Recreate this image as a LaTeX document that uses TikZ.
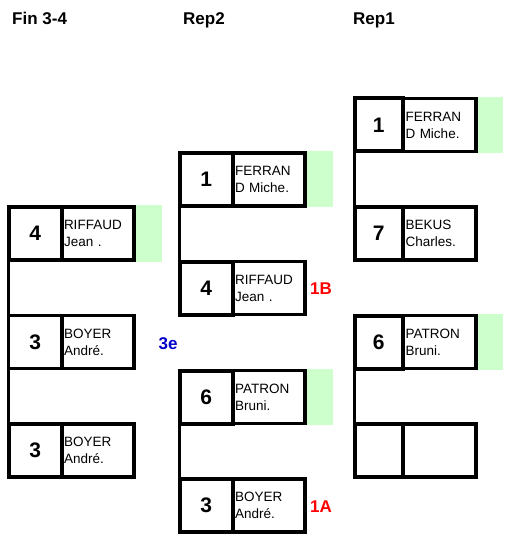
\documentclass[tikz,border=0pt]{standalone}
\usepackage{fontspec}
\setmainfont{Liberation Sans}
\usetikzlibrary{positioning}
\definecolor{winGreen}{HTML}{CCFFCC}
\definecolor{markRed}{HTML}{FF0000}
\definecolor{markBlue}{HTML}{0000CC}

\tikzset{
  numbox/.style={draw,line width=4pt,minimum width=53.5pt,minimum height=53pt,inner sep=0pt,outer sep=0pt,font=\fontsize{21}{21}\selectfont\bfseries},
  namebox/.style={draw,line width=3.2pt,minimum width=72pt,minimum height=53pt,text width=68pt,inner sep=2pt,outer sep=0pt,align=left,font=\fontsize{13.5}{17}\selectfont},
  winbox/.style={fill=winGreen,minimum width=26.5pt,minimum height=56pt,inner sep=0pt,outer sep=0pt},
  roundtitle/.style={anchor=base west,inner sep=0pt,font=\fontsize{17}{17}\selectfont\bfseries},
  placemark/.style={inner sep=0pt,font=\fontsize{17}{17}\selectfont\bfseries},
  link/.style={line width=3.5pt}
}

\begin{document}
\begin{tikzpicture}[x=1pt,y=-1pt]
  \useasboundingbox (0,0) rectangle (506,534);

  % round titles
  \node[roundtitle] (tFin) at (12,25) {Fin 3-4};
  \node[roundtitle] (tRep2) at (183,25) {Rep2};
  \node[roundtitle] (tRep1) at (353,25) {Rep1};

  % Fin 3-4
  \node[numbox] (fRiffaud) at (35.25,233.5) {4};
  \node[namebox,right=0pt of fRiffaud] (fRiffaudN) {RIFFAUD\\Jean .};
  \node[winbox,right=1.6pt of fRiffaudN] (fRiffaudW) {};
  \node[numbox,line width=3.2pt] (fBoyer) at (35.25,342) {3};
  \node[namebox,right=0pt of fBoyer] (fBoyerN) {BOYER\\André.};
  \node[numbox] (fBoyerB) at (35.25,450.5) {3};
  \node[namebox,right=0pt of fBoyerB] (fBoyerBN) {BOYER\\André.};
  \draw[link] (fRiffaud.south west) -- (fBoyer.north west);
  \draw[link] (fBoyer.south west) -- (fBoyerB.north west);
  \node[placemark,text=markBlue] (m3e) at (168,344) {3e};

  % Rep2
  \node[numbox] (sFerrand) at (206.25,179.5) {1};
  \node[namebox,right=0pt of sFerrand] (sFerrandN) {FERRAN\\D Miche.};
  \node[winbox,right=1.6pt of sFerrandN] (sFerrandW) {};
  \node[numbox] (sRiffaud) at (206.25,288) {4};
  \node[namebox,right=0pt of sRiffaud] (sRiffaudN) {RIFFAUD\\Jean .};
  \draw[link] (sFerrand.south west) -- (sRiffaud.north west);
  \node[placemark,text=markRed] (m1B) at (321,289) {1B};
  \node[numbox] (sPatron) at (206.25,397) {6};
  \node[namebox,right=0pt of sPatron] (sPatronN) {PATRON\\Bruni.};
  \node[winbox,right=1.6pt of sPatronN] (sPatronW) {};
  \node[numbox] (sBoyer) at (206.25,505.5) {3};
  \node[namebox,right=0pt of sBoyer] (sBoyerN) {BOYER\\André.};
  \draw[link] (sPatron.south west) -- (sBoyer.north west);
  \node[placemark,text=markRed] (m1A) at (321,507) {1A};

  % Rep1
  \node[numbox,minimum width=48.5pt] (rFerrand) at (378.75,125) {1};
  \node[namebox,minimum width=73pt,right=0pt of rFerrand] (rFerrandN) {FERRAN\\D Miche.};
  \node[winbox,minimum width=25pt,right=1.6pt of rFerrandN] (rFerrandW) {};
  \node[numbox,minimum width=48.5pt] (rBekus) at (378.75,233.5) {7};
  \node[namebox,minimum width=73pt,right=0pt of rBekus] (rBekusN) {BEKUS\\Charles.};
  \draw[link] (rFerrand.south west) -- (rBekus.north west);
  \node[numbox,minimum width=48.5pt] (rPatron) at (378.75,342) {6};
  \node[namebox,minimum width=73pt,right=0pt of rPatron] (rPatronN) {PATRON\\Bruni.};
  \node[winbox,minimum width=25pt,right=1.6pt of rPatronN] (rPatronW) {};
  \node[numbox,minimum width=48.5pt] (rEmpty) at (378.75,450.5) {};
  \node[namebox,minimum width=73pt,right=0pt of rEmpty] (rEmptyN) {};
  \draw[link] (rPatron.south west) -- (rEmpty.north west);
\end{tikzpicture}
\end{document}
